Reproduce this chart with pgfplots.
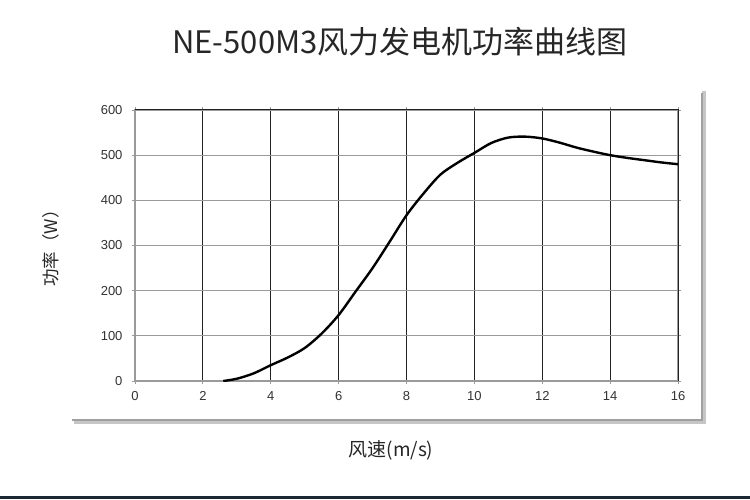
\documentclass[border=0pt]{standalone}
\usepackage{pgfplots}
\pgfplotsset{compat=1.18}
\usepackage{fontspec}
\setmainfont{Liberation Sans}
\newfontfamily\cjk{Noto Sans CJK SC}
\definecolor{txt}{HTML}{333333}
\definecolor{hgrid}{HTML}{9A9A9A}
\definecolor{vgrid}{HTML}{222222}
\definecolor{shadow}{HTML}{A0A0A0}
\definecolor{bottombar}{HTML}{1C2832}
\pgfplotstableread{
x y
2.6 0
3 5
3.5 17
4 35
4.5 52
5 73
5.5 105
6 146
6.5 198
7 250
7.5 308
8 367
8.5 415
9 457
9.5 483
10 505
10.5 527
11 539
11.5 541
12 537
12.5 528
13 517
13.5 508
14 500
14.5 494
15 489
15.5 484
16 480
}\powercurve
\begin{document}
\begin{tikzpicture}[x=1pt,y=1pt]
\useasboundingbox (0,0) rectangle (750,499);
\fill[white] (0,0) rectangle (750,499);
\fill[bottombar] (0,0) rectangle (750,3);
\draw[shadow!60, line width=4pt] (74,77) -- (704,77) -- (704,408);
\draw[shadow, line width=1.6pt] (72,79) -- (702,79) -- (702,406);
\node[font=\cjk\fontsize{31}{35}\selectfont, text=black!85] at (400,457) {NE-500M3风力发电机功率曲线图};
\node[font=\cjk\fontsize{17.5}{20}\selectfont, text=black!85, rotate=90] at (51,255) {功率（W）};
\node[font=\cjk\fontsize{19}{22}\selectfont, text=black!85] at (391,49) {风速(m/s)};
\begin{axis}[
  at={(135pt,118pt)}, anchor=south west,
  scale only axis, width=543pt, height=271pt,
  xmin=0, xmax=16, ymin=0, ymax=600,
  xtick={0,2,...,16}, ytick={0,100,...,600},
  xmajorgrids, ymajorgrids,
  x grid style={vgrid, line width=0.9pt},
  y grid style={hgrid, line width=1.1pt},
  axis line style={hgrid, line width=1.1pt},
  tick style={hgrid, line width=0.8pt},
  tick align=outside, major tick length=3pt,
  every tick label/.append style={font=\fontsize{13}{15}\selectfont, text=txt},
  /pgf/number format/assume math mode=true,
  xticklabel style={yshift=-3.5pt, text height=9.5pt, text depth=0pt},
  yticklabel style={xshift=-6pt},
]
\addplot[black, line width=2.4pt, smooth, tension=0.5] table[x=x,y=y] {\powercurve};
\end{axis}
\draw[vgrid, line width=1pt] (135,389) -- (678,389) -- (678,118);
\end{tikzpicture}
\end{document}
